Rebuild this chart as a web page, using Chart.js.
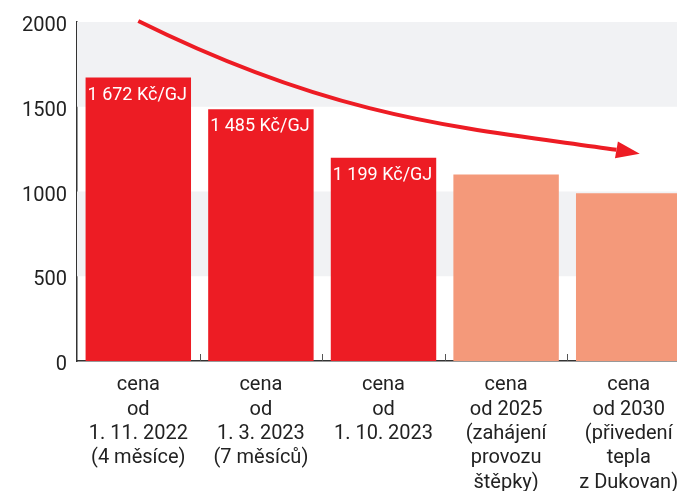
<!DOCTYPE html>
<html>
<head>
<meta charset="utf-8">
<script src="https://cdn.jsdelivr.net/npm/chart.js@4"></script>
<style>
html,body{margin:0;padding:0;overflow:hidden;background:#fff;width:677px;height:491px;}
#wrap{width:702px;height:491px;}
</style>
</head>
<body>
<div id="wrap"><canvas id="c" width="702" height="491"></canvas></div>
<script>
// ---- data ----
const categories = [
  ["cena", "od", "1. 11. 2022", "(4 měsíce)"],
  ["cena", "od", "1. 3. 2023", "(7 měsíců)"],
  ["cena", "od", "1. 10. 2023"],
  ["cena", "od 2025", "(zahájení", "provozu", "štěpky)"],
  ["cena", "od 2030", "(přivedení", "tepla", "z Dukovan)"]
];
const prices = [1672, 1485, 1199, 1100, 990];
const priceLabels = ["1 672 Kč/GJ", "1 485 Kč/GJ", "1 199 Kč/GJ", "", ""];
const barColors = ["#ed1c24", "#ed1c24", "#ed1c24", "#f4997a", "#f4997a"];
const yTicks = [0, 500, 1000, 1500, 2000];
const bands = [[1500, 2000], [500, 1000]];
// arrow path in data space (category index, value): start, ctrl1, ctrl2, end, tip
const arrowPath = [[0.0, 2006], [1.63, 1421], [2.67, 1374], [3.9, 1246], [4.09, 1222]];

const RED = "#ed1c24";

const bandPlugin = {
  id: "bands",
  beforeDatasetsDraw(chart) {
    const {ctx, chartArea, scales: {y}} = chart;
    ctx.save();
    ctx.fillStyle = "#f1f2f4";
    bands.forEach(([a, b]) => {
      const t = y.getPixelForValue(b), bt = y.getPixelForValue(a);
      ctx.fillRect(chartArea.left, t, chartArea.right - chartArea.left, bt - t);
    });
    ctx.restore();
  }
};

const decoPlugin = {
  id: "deco",
  afterDatasetsDraw(chart) {
    const {ctx, chartArea, scales: {x, y}} = chart;
    ctx.save();
    // small upward ticks at category boundaries
    ctx.strokeStyle = "#555";
    ctx.lineWidth = 1;
    for (let i = 1; i < categories.length; i++) {
      const px = Math.round((x.getPixelForValue(i - 1) + x.getPixelForValue(i)) / 2) + 0.5;
      ctx.beginPath();
      ctx.moveTo(px, chartArea.bottom);
      ctx.lineTo(px, chartArea.bottom - 7);
      ctx.stroke();
    }
    // labels inside bars
    ctx.fillStyle = "#fff";
    ctx.font = "18px Roboto";
    ctx.textAlign = "center";
    ctx.textBaseline = "alphabetic";
    const meta = chart.getDatasetMeta(0);
    meta.data.forEach((bar, i) => {
      if (!priceLabels[i]) return;
      ctx.fillText(priceLabels[i], bar.x - 1, bar.y + 22);
    });
    // arrow
    const P = arrowPath.map(([i, v]) => [x.getPixelForValue(i), y.getPixelForValue(v)]);
    ctx.strokeStyle = RED;
    ctx.lineWidth = 4;
    ctx.lineCap = "butt";
    ctx.beginPath();
    ctx.moveTo(P[0][0], P[0][1]);
    ctx.bezierCurveTo(P[1][0], P[1][1], P[2][0], P[2][1], P[3][0], P[3][1]);
    ctx.stroke();
    const tip = P[4], base = P[3];
    const dx = tip[0] - base[0], dy = tip[1] - base[1];
    const len = Math.hypot(dx, dy);
    const nx = -dy / len, ny = dx / len;
    const hw = 8.5;
    ctx.fillStyle = RED;
    ctx.beginPath();
    ctx.moveTo(tip[0], tip[1]);
    ctx.lineTo(base[0] + nx * hw, base[1] + ny * hw);
    ctx.lineTo(base[0] - nx * hw, base[1] - ny * hw);
    ctx.closePath();
    ctx.fill();
    ctx.restore();
  }
};

new Chart(document.getElementById("c"), {
  type: "bar",
  data: {
    labels: categories,
    datasets: [{
      data: prices,
      backgroundColor: barColors,
      borderWidth: 0,
      categoryPercentage: 0.86,
      barPercentage: 1.0
    }]
  },
  options: {
    responsive: false,
    animation: false,
    devicePixelRatio: 1,
    layout: {padding: {top: 6, right: 12, left: 0, bottom: 0}},
    plugins: {legend: {display: false}, tooltip: {enabled: false}},
    scales: {
      x: {
        grid: {display: false, drawTicks: false},
        border: {display: true, color: "#333", width: 1.5, z: -1},
        afterFit(scale) { scale.height = 130; },
        ticks: {
          color: "#222",
          font: {family: "Roboto", size: 20, lineHeight: 1.22},
          padding: 12,
          maxRotation: 0,
          autoSkip: false
        }
      },
      y: {
        min: 0,
        max: 2000,
        afterBuildTicks(scale) { scale.ticks = yTicks.map(v => ({value: v})); },
        afterFit(scale) { scale.width = 77; },
        grid: {display: false, drawTicks: false},
        border: {display: true, color: "#333", width: 1.5},
        ticks: {
          color: "#222",
          font: {family: "Roboto", size: 20},
          padding: 10,
          labelOffset: 4,
          callback: (v) => String(v)
        }
      }
    }
  },
  plugins: [bandPlugin, decoPlugin]
});
</script>
</body>
</html>
